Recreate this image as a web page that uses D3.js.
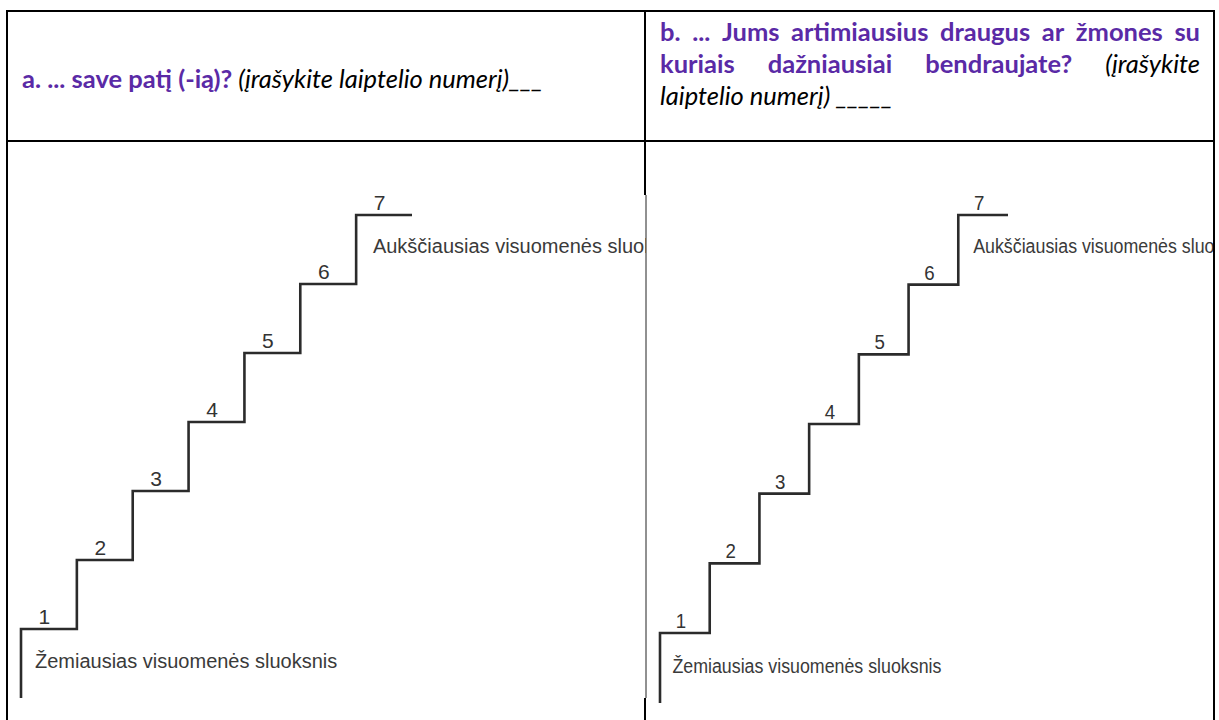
<!DOCTYPE html>
<html>
<head>
<meta charset="utf-8">
<script src="https://cdn.jsdelivr.net/npm/d3@7"></script>
<style>
  body { margin: 0; background: #fff; }
</style>
</head>
<body>
<div id="chart"></div>
<script>
const WIDTH = 1219;
const HEIGHT = 720;

// ladder steps and texts
const steps = [1, 2, 3, 4, 5, 6, 7];
const topLabel = "Aukščiausias visuomenės sluoksnis";
const bottomLabel = "Žemiausias visuomenės sluoksnis";

const headerA = [
  { t: "a. ... save patį (-ią)?", bold: true },
  { t: " (įrašykite laiptelio numerį)___", italic: true }
];
// right header, one array per line (justified except the last)
const headerBLine1 = ["b.", "...", "Jums", "artimiausius", "draugus", "ar", "žmones", "su"];
const headerBLine2 = ["kuriais", "dažniausiai", "bendraujate?"];
const headerBLine2Tail = ["(įrašykite"];
const headerBLine3 = "laiptelio numerį) _____";

const PURPLE = "#5a2aa6";
const HEAD_FONT = "Lato, 'Open Sans', sans-serif";
const HEAD_SIZE = 25.5;

// two ladder pictures, right one slightly squeezed
const panels = [
  { x0: 21,  x1: 412,  yLow: 629, yHigh: 215, base: 698, sx: 1,    clip: [7, 141, 639, 579] },
  { x0: 660, x1: 1008, yLow: 633, yHigh: 215, base: 703, sx: 0.89, clip: [646, 141, 568, 579] }
];

const svg = d3.select("#chart").append("svg")
  .attr("width", WIDTH)
  .attr("height", HEIGHT)
  .style("display", "block");

const defs = svg.append("defs");

panels.forEach((p, i) => {
  defs.append("clipPath").attr("id", "clip" + i)
    .append("rect")
    .attr("x", p.clip[0]).attr("y", p.clip[1])
    .attr("width", p.clip[2]).attr("height", p.clip[3]);

  const x = d3.scaleLinear().domain([1, 8]).range([p.x0, p.x1]);
  const y = d3.scaleLinear().domain([1, 7]).range([p.yLow, p.yHigh]);

  const g = svg.append("g").attr("clip-path", `url(#clip${i})`);

  const pts = [[x(1), p.base]];
  steps.forEach(s => {
    pts.push([x(s), y(s)]);
    pts.push([x(s + 1), y(s)]);
  });

  g.append("path")
    .attr("d", d3.line()(pts))
    .attr("fill", "none")
    .attr("stroke", "#2b2b2b")
    .attr("stroke-width", 2.6);

  g.selectAll(".num")
    .data(steps)
    .enter()
    .append("text")
    .attr("transform", d => `translate(${x(d + 0.42)},${y(d) - 5}) scale(${p.sx},1)`)
    .attr("text-anchor", "middle")
    .style("font-family", "'Liberation Sans', Arial, sans-serif")
    .style("font-size", "21px")
    .style("fill", "#333")
    .text(d => d);

  g.append("text")
    .attr("transform", `translate(${x(7.3)},${y(6.45)}) scale(${p.sx},1)`)
    .style("font-family", "'Liberation Sans', Arial, sans-serif")
    .style("font-size", "20px")
    .style("fill", "#3a3a3a")
    .text(topLabel);

  g.append("text")
    .attr("transform", `translate(${x(1.25)},${y(0.43)}) scale(${p.sx},1)`)
    .style("font-family", "'Liberation Sans', Arial, sans-serif")
    .style("font-size", "20px")
    .style("fill", "#3a3a3a")
    .text(bottomLabel);
});

// table borders
const border = svg.append("g")
  .attr("stroke", "#000")
  .attr("stroke-width", 2);

border.append("line").attr("x1", 6).attr("x2", 1215).attr("y1", 11).attr("y2", 11);
border.append("line").attr("x1", 6).attr("x2", 1215).attr("y1", 141).attr("y2", 141);
border.append("line").attr("x1", 7).attr("x2", 7).attr("y1", 10).attr("y2", 720);
border.append("line").attr("x1", 1214).attr("x2", 1214).attr("y1", 10).attr("y2", 720);
border.append("line").attr("x1", 645).attr("x2", 645).attr("y1", 10).attr("y2", 195);
border.append("line").attr("x1", 645).attr("x2", 645).attr("y1", 698).attr("y2", 720);
svg.append("line")
  .attr("x1", 646).attr("x2", 646).attr("y1", 195).attr("y2", 698)
  .attr("stroke", "#222").attr("stroke-width", 1);

// header a
const ta = svg.append("text")
  .attr("x", 22).attr("y", 88)
  .style("font-family", HEAD_FONT)
  .style("font-size", HEAD_SIZE + "px")
  .attr("xml:space", "preserve");

headerA.forEach(part => {
  ta.append("tspan")
    .text(part.t)
    .style("font-weight", part.bold ? 700 : 400)
    .style("font-style", part.italic ? "italic" : "normal")
    .style("fill", part.bold ? PURPLE : "#000");
});

// justified header b lines
function wordWidth(text, bold, italic) {
  const t = svg.append("text")
    .style("font-family", HEAD_FONT)
    .style("font-size", HEAD_SIZE + "px")
    .style("font-weight", bold ? 700 : 400)
    .style("font-style", italic ? "italic" : "normal")
    .text(text);
  const w = t.node().getComputedTextLength();
  t.remove();
  return w;
}

function justify(words, left, right, baseline) {
  const widths = words.map(w => wordWidth(w.t, w.bold, w.italic));
  const gap = (right - left - d3.sum(widths)) / (words.length - 1);
  let cx = left;
  words.forEach((w, i) => {
    svg.append("text")
      .attr("x", cx).attr("y", baseline)
      .style("font-family", HEAD_FONT)
      .style("font-size", HEAD_SIZE + "px")
      .style("font-weight", w.bold ? 700 : 400)
      .style("font-style", w.italic ? "italic" : "normal")
      .style("fill", w.bold ? PURPLE : "#000")
      .text(w.t);
    cx += widths[i] + gap;
  });
}

justify(headerBLine1.map(t => ({ t, bold: true })), 660, 1200, 41);
justify(
  headerBLine2.map(t => ({ t, bold: true })).concat(headerBLine2Tail.map(t => ({ t, italic: true }))),
  660, 1200, 73
);

svg.append("text")
  .attr("x", 660).attr("y", 105)
  .style("font-family", HEAD_FONT)
  .style("font-size", HEAD_SIZE + "px")
  .style("font-style", "italic")
  .text(headerBLine3);
</script>
</body>
</html>
